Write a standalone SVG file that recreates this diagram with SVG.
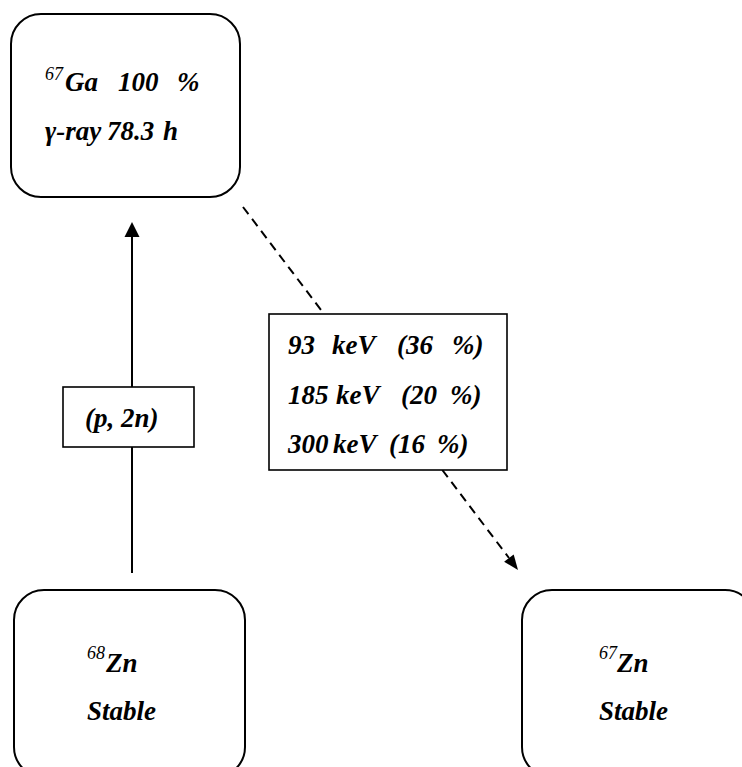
<svg xmlns="http://www.w3.org/2000/svg" width="742" height="767" viewBox="0 0 742 767">
<style>
.node{fill:#fff;stroke:#000;stroke-width:2}
.lbl{fill:#fff;stroke:#000;stroke-width:1.6}
.t{font-family:"Liberation Serif","Times New Roman",serif;font-size:27px;font-weight:bold;font-style:italic;fill:#000}
.sup{font-family:"Liberation Serif","Times New Roman",serif;font-size:18px;font-style:italic;fill:#000}
.ln{stroke:#000;stroke-width:2;fill:none}
.dash{stroke:#000;stroke-width:2;fill:none;stroke-dasharray:9 6}
</style>
<rect width="742" height="767" fill="#fff"/>
<g id="connectors">
  <line class="ln" x1="132" y1="573" x2="132" y2="236"/>
  <polygon points="132,222 124.5,237 139.5,237" fill="#000"/>
  <line class="dash" x1="243" y1="207" x2="509" y2="558"/>
  <polygon points="518,570 513.7,554.4 504.1,561.7" fill="#000"/>
</g>
<g id="ga67">
  <rect class="node" x="11" y="14" width="229" height="183" rx="30" ry="30"/>
  <text class="sup" x="45" y="80">67</text>
  <text class="t" x="65" y="91">Ga</text>
  <text class="t" x="118" y="91">100</text>
  <text class="t" x="177" y="91">%</text>
  <text class="t" x="45" y="140">γ-ray</text>
  <text class="t" x="107" y="140">78.3</text>
  <text class="t" x="163" y="140">h</text>
</g>
<g id="reaction">
  <rect class="lbl" x="63" y="387" width="131" height="60"/>
  <text class="t" x="85" y="427">(p, 2n)</text>
</g>
<g id="gamma">
  <rect class="lbl" x="269" y="314" width="238" height="156"/>
  <text class="t" x="288" y="354">93</text>
  <text class="t" x="332" y="354">keV</text>
  <text class="t" x="397" y="354">(36</text>
  <text class="t" x="452" y="354">%)</text>
  <text class="t" x="288" y="404">185</text>
  <text class="t" x="336" y="404">keV</text>
  <text class="t" x="401" y="404">(20</text>
  <text class="t" x="450" y="404">%)</text>
  <text class="t" x="288" y="453">300</text>
  <text class="t" x="333" y="453">keV</text>
  <text class="t" x="389" y="453">(16</text>
  <text class="t" x="437" y="453">%)</text>
</g>
<g id="zn68">
  <rect class="node" x="14" y="590" width="231" height="187" rx="30" ry="30"/>
  <text class="sup" x="87" y="659">68</text>
  <text class="t" x="106" y="672">Zn</text>
  <text class="t" x="87" y="720">Stable</text>
</g>
<g id="zn67">
  <rect class="node" x="522" y="590" width="233" height="187" rx="30" ry="30"/>
  <text class="sup" x="599" y="659">67</text>
  <text class="t" x="617" y="672">Zn</text>
  <text class="t" x="599" y="720">Stable</text>
</g>
</svg>
